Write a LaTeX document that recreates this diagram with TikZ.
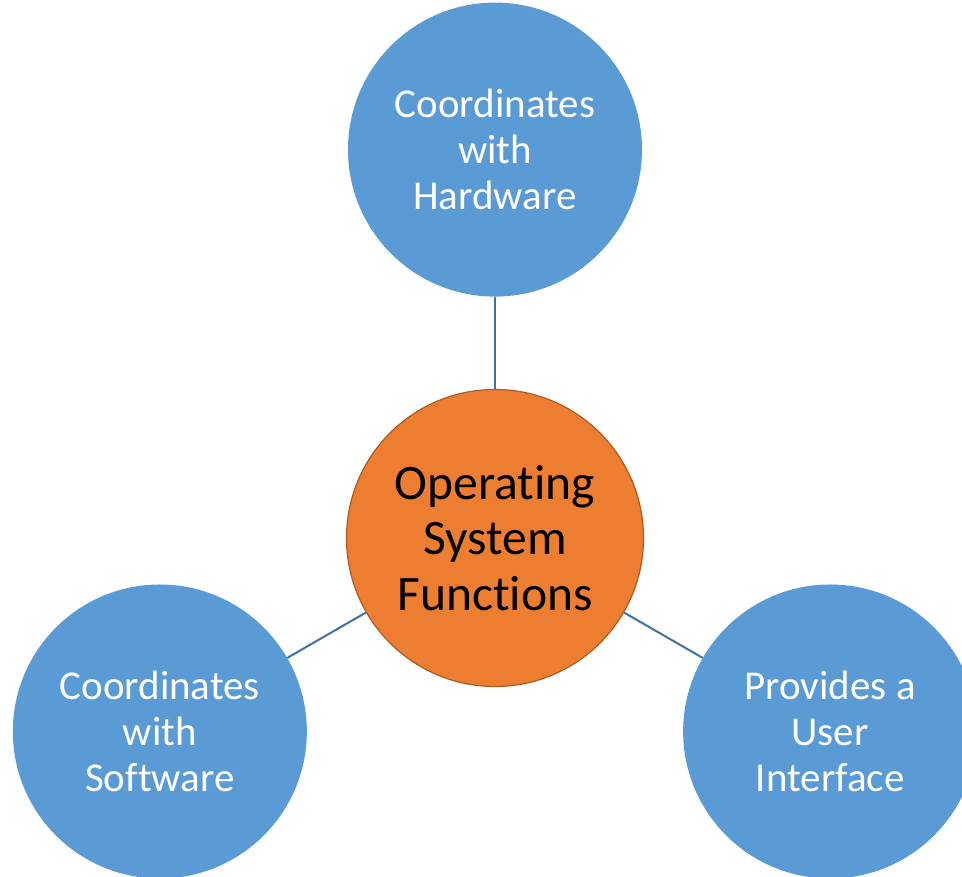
\documentclass[tikz,border=0pt]{standalone}
\usepackage{fontspec}
\setmainfont{Carlito}[Ligatures=NoCommon]
\usetikzlibrary{positioning}
\definecolor{osblue}{HTML}{5B9BD5}
\definecolor{osorange}{HTML}{ED7D31}
\definecolor{osrim}{HTML}{AE5A21}
\definecolor{oslink}{HTML}{41719C}

\begin{document}
\begin{tikzpicture}[x=1pt,y=1pt,semithick,
  func/.style={circle,fill=osblue,text=white,minimum size=294pt,inner sep=0pt,align=center,font=\fontsize{41}{46}\selectfont},
  core/.style={circle,fill=osorange,draw=osrim,line width=1.2pt,minimum size=297pt,inner sep=0pt,align=center,font=\fontsize{49.6}{55.5}\selectfont},
  link/.style={draw=oslink,line width=2pt}]
	  \clip (-495,538) rectangle (467,-339);
	  \node[core] (OS)                 {Operating\\System\\Functions};
	  \node[func] (HW) [above=92pt of OS] {Coordinates\\with\\Hardware};
	  \node[func] (SW) at (210:387)    {Coordinates\\with\\Software};
	  \node[func] (UI) at (-30:387)    {Provides a\\User\\Interface};

	  \path
(OS) edge [link] (HW)
(OS) edge [link] (SW)
(OS) edge [link] (UI)
;
	\end{tikzpicture}
\end{document}
